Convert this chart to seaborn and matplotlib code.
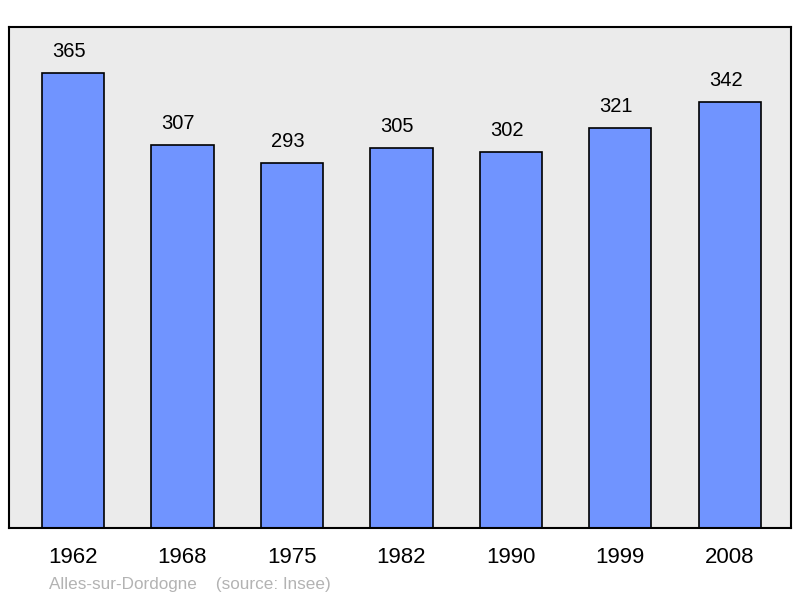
import matplotlib

matplotlib.use("Agg")

import matplotlib.pyplot as plt
import pandas as pd
import seaborn as sns

years = ["1962", "1968", "1975", "1982", "1990", "1999", "2008"]
population = [365, 307, 293, 305, 302, 321, 342]
commune = "Alles-sur-Dordogne"
source = "(source: Insee)"

sns.set_style("white")
plt.rcParams["font.family"] = ["Liberation Sans", "DejaVu Sans"]
plt.rcParams["text.color"] = "black"
plt.rcParams["xtick.color"] = "black"

df = pd.DataFrame({"year": years, "population": population})

fig = plt.figure(figsize=(8, 5.98), dpi=100)
ax = fig.add_axes([9 / 800, 70 / 598, 782 / 800, 501 / 598])
ax.set_facecolor("#ebebeb")

sns.barplot(data=df, x="year", y="population", color="#7094ff", saturation=1,
            width=0.57, edgecolor="black", linewidth=1.2, ax=ax)

# value labels sit a bit left of the bar centre, as in the original
for i, v in enumerate(population):
    ax.annotate(str(v), (i, v), xytext=(-3, 15.5), textcoords="offset points",
                ha="center", va="center", fontsize=14.5, color="black")

ax.set_xlim(-0.585, 6.56)
ax.set_ylim(0, 402)
ax.set_yticks([])
ax.set_xlabel("")
ax.set_ylabel("")
ax.tick_params(axis="x", length=0, labelsize=16, pad=14, labelcolor="black")
for sp in ax.spines.values():
    sp.set_visible(True)
    sp.set_color("black")
    sp.set_linewidth(1.5)

fig.text(49 / 800, 1 - 584 / 598, commune + "    " + source, color="#b3b3b3",
         fontsize=12.3, ha="left", va="center")

fig.savefig("out.png", dpi=100)
